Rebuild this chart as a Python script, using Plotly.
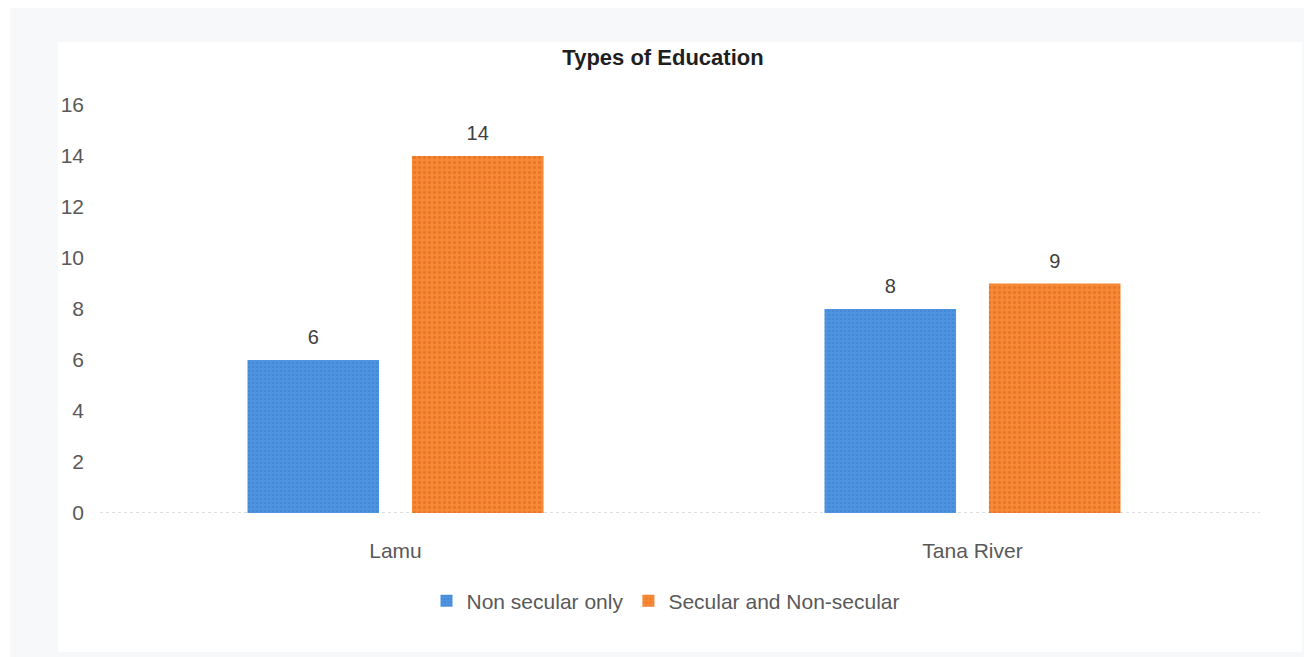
import plotly.graph_objects as go

categories = ["Lamu", "Tana River"]
series_names = ["Non secular only", "Secular and Non-secular"]
non_secular = [6, 8]
secular_and_non = [14, 9]
y_ticks = [0, 2, 4, 6, 8, 10, 12, 14, 16]

W, H = 1304, 657
FONT = "Liberation Sans, Arial, sans-serif"

def px(x):
    return x / W

def py(y):
    return (H - y) / H

series = [
    (series_names[0], non_secular, "#4a8fdd", "#4f94e0", "#3a7dcc", 4),
    (series_names[1], secular_and_non, "#f58532", "#f88a36", "#d9631e", 5),
]

fig = go.Figure()
for i, (name, vals, col, bg, fg, sz) in enumerate(series):
    fig.add_trace(go.Bar(
        name=name, x=categories, y=vals, offsetgroup=str(i),
        marker=dict(color=col, line=dict(width=0),
                    pattern=dict(shape=".", bgcolor=bg, fgcolor=fg, size=sz, solidity=0.35)),
    ))
for i, (name, vals, col, bg, fg, sz) in enumerate(series):
    fig.add_trace(go.Scatter(
        x=categories, y=vals, offsetgroup=str(i), mode="markers+text",
        text=[str(v) for v in vals], textposition="top center",
        marker=dict(size=16, opacity=0), showlegend=False, hoverinfo="skip",
        textfont=dict(family=FONT, size=20, color="#404040"), cliponaxis=False,
    ))

fig.update_layout(
    width=W, height=H,
    margin=dict(l=0, r=0, t=0, b=0, pad=0, autoexpand=False),
    paper_bgcolor="white", plot_bgcolor="rgba(0,0,0,0)",
    barmode="group", bargap=0.43, bargroupgap=0.2,
    scattermode="group", scattergap=0.43,
    font=dict(family=FONT, size=21, color="#595959"),
    title=dict(text="<b>Types of Education</b>", x=px(663), xanchor="center",
               y=py(57), yanchor="middle", font=dict(family=FONT, size=22, color="#1f1f1f")),
    showlegend=True,
    legend=dict(orientation="h", x=px(666), xanchor="center", y=py(601), yanchor="middle",
                font=dict(family=FONT, size=21, color="#595959"), itemwidth=30,
                bgcolor="rgba(0,0,0,0)"),
    xaxis=dict(domain=[px(107), px(1261)], showgrid=False, zeroline=False, showline=False,
               ticks="", tickfont=dict(family=FONT, size=21, color="#595959"), ticklabelstandoff=23,
               automargin=False),
    yaxis=dict(domain=[py(513), py(105)], range=[0, 16], tickvals=y_ticks, showgrid=False,
               zeroline=False, showline=False, ticks="", automargin=False,
               tickfont=dict(family=FONT, size=21, color="#595959"), ticklabelstandoff=22),
    shapes=[
        dict(type="rect", xref="paper", yref="paper", x0=px(10), x1=1, y0=0, y1=py(8),
             fillcolor="#f7f8fa", line=dict(width=0), layer="below"),
        dict(type="rect", xref="paper", yref="paper", x0=px(58), x1=px(1302), y0=py(652), y1=py(42),
             fillcolor="white", line=dict(width=0), layer="below"),
        dict(type="line", xref="paper", yref="y", x0=px(100), x1=px(1260), y0=0, y1=0,
             line=dict(color="#bfbfbf", width=1, dash="dot"), layer="below"),
    ],
)

fig.write_html("out.html")
